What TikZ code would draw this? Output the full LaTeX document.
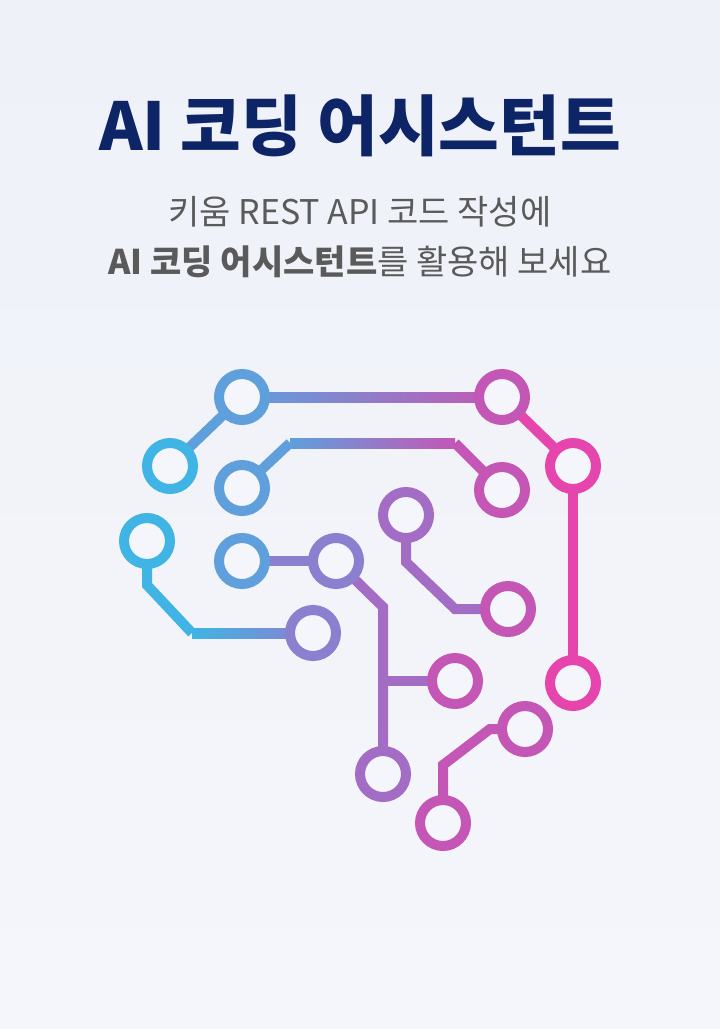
\documentclass[tikz,border=0pt]{standalone}
\usepackage{fontspec}
\newfontfamily\kr{Noto Sans CJK KR}
\definecolor{navy}{HTML}{0D2466}
\definecolor{sub}{HTML}{5A5A5A}
\definecolor{c1}{HTML}{40B4E4}
\definecolor{c2}{HTML}{5F9FDC}
\definecolor{c3}{HTML}{8A80CF}
\definecolor{c4}{HTML}{A36CC5}
\definecolor{c5}{HTML}{C457B5}
\definecolor{c6}{HTML}{E545AD}
\definecolor{bgt}{HTML}{EEF1F8}
\definecolor{bgb}{HTML}{F5F6FB}
\begin{document}
\begin{tikzpicture}[x=1pt,y=-1pt,
  ring/.style={circle,draw=#1,line width=10pt,fill=bgb,minimum size=46pt,inner sep=0pt},
  wire/.style={draw=#1,line width=10pt}]
\shade[top color=bgt,bottom color=bgb] (0,0) rectangle (720,1029);
\useasboundingbox (0,0) rectangle (720,1029);
\node[font=\kr\bfseries\fontsize{66}{68}\selectfont,text=navy] (title) at (360,126) {AI 코딩 어시스턴트};
\node[font=\kr\fontsize{34}{36}\selectfont,text=sub] (s1) at (360,212) {키움 REST API 코드 작성에};
\node[font=\kr\fontsize{34}{36}\selectfont,text=sub] (s2) at (360,262) {\textbf{AI 코딩 어시스턴트}를 활용해 보세요};
% coordinates
\coordinate (A) at (242,397); \coordinate (B) at (502,397);
\coordinate (C) at (170,466); \coordinate (D) at (242,488);
\coordinate (E) at (502,490); \coordinate (F) at (573,466);
\coordinate (G) at (147,541); \coordinate (H) at (406,515);
\coordinate (I) at (242,561); \coordinate (J) at (336,561);
\coordinate (K) at (508,609); \coordinate (L) at (313,633);
\coordinate (M) at (455,681); \coordinate (N) at (573,683);
\coordinate (O) at (383,774); \coordinate (P) at (525,729);
\coordinate (Q) at (443,823);
\coordinate (d1) at (290,443); \coordinate (d2) at (455,443);
\coordinate (g1) at (147,585); \coordinate (g2) at (192,633);
\coordinate (j1) at (383,607); \coordinate (j2) at (383,681);
\coordinate (h1) at (406,562); \coordinate (h2) at (455,609);
\coordinate (p1) at (490,729); \coordinate (p2) at (443,765);
% wires
\draw[wire=c2] (A) -- (C);
\fill[left color=c2,right color=c5] (242,392) rectangle (502,402);
\draw[wire=c6] (B) -- (F);
\draw[wire=c6] (F) -- (N);
\draw[wire=c2] (D) -- (d1);
\fill[left color=c2,right color=c5] (290,438) rectangle (455,448);
\draw[wire=c5] (d2) -- (E);
\draw[wire=c1] (G) -- (g1) -- (g2);
\fill[left color=c1,right color=c3] (192,628) rectangle (313,638);
\draw[wire=c3] (I) -- (J);
\draw[wire=c4] (J) -- (j1) -- (O);
\draw[wire=c4] (j2) -- (M);
\draw[wire=c4] (H) -- (h1) -- (h2) -- (K);
\draw[wire=c5] (P) -- (p1) -- (p2) -- (Q);
% rings
\node[ring=c2] (nA) at (A) {}; \node[ring=c5] (nB) at (B) {};
\node[ring=c1] (nC) at (C) {}; \node[ring=c2] (nD) at (D) {};
\node[ring=c5] (nE) at (E) {}; \node[ring=c6] (nF) at (F) {};
\node[ring=c1] (nG) at (G) {}; \node[ring=c4] (nH) at (H) {};
\node[ring=c2] (nI) at (I) {}; \node[ring=c3] (nJ) at (J) {};
\node[ring=c5] (nK) at (K) {}; \node[ring=c3] (nL) at (L) {};
\node[ring=c5] (nM) at (M) {}; \node[ring=c6] (nN) at (N) {};
\node[ring=c4] (nO) at (O) {}; \node[ring=c5] (nP) at (P) {};
\node[ring=c5] (nQ) at (Q) {};
\end{tikzpicture}
\end{document}
